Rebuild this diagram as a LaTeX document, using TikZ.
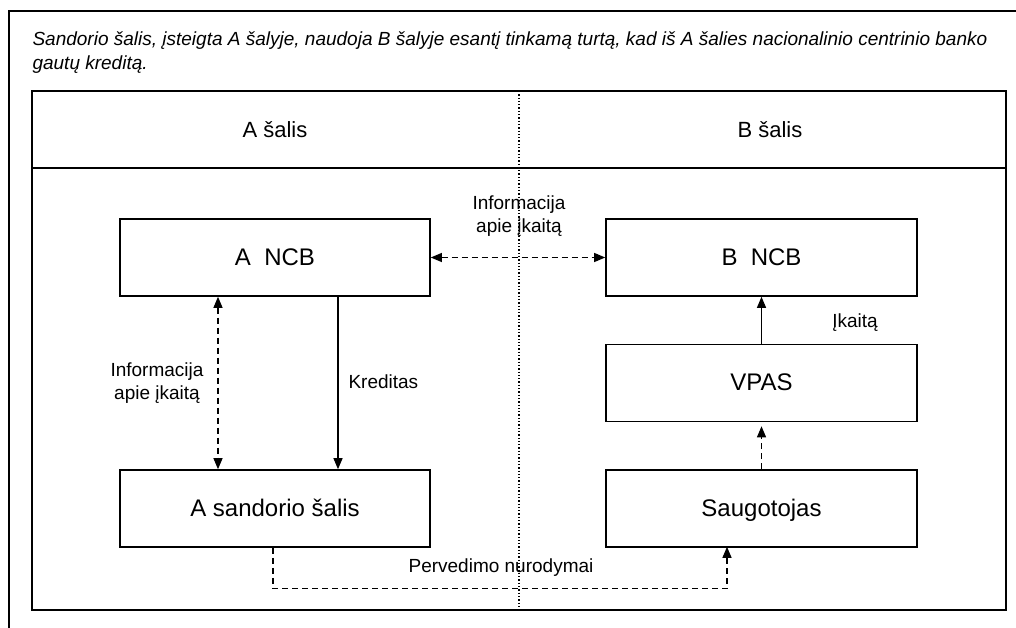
\documentclass[tikz,border=0pt]{standalone}
\usepackage{fontspec}
\setmainfont{Liberation Sans}
\usetikzlibrary{arrows.meta}
\tikzset{every node/.style={font=\fontsize{19}{23}\selectfont}}
\tikzset{bank/.style={draw, line width=1.6pt, minimum height=77pt,
    font=\fontsize{24}{28}\selectfont, inner sep=0pt,
    text height=18pt, text depth=3pt},
  infoline/.style={dash pattern=on 6pt off 4pt}}

\begin{document}
\begin{tikzpicture}[x=1pt, y=-1pt, line width=1.1pt,
    >={Triangle[length=11pt,width=9pt]}]
      \useasboundingbox (0,0) rectangle (1016,628);
      % frames
      \draw[line width=1.6pt] (1030,11) -- (9,11) -- (9,640);
      \draw[line width=1.6pt] (32,91) rectangle (1006,610);
      \draw[line width=1.6pt] (32,168) -- (1006,168);
      \draw[dotted, line width=1.3pt] (519,91) -- (519,610);

      \node (title) [anchor=base west, align=left, inner sep=0pt,
        font=\itshape\fontsize{19}{24}\selectfont] at (32,70)
        {Sandorio šalis, įsteigta A šalyje, naudoja B šalyje esantį tinkamą turtą, kad iš A šalies nacionalinio centrinio banko\\gautų kreditą.};
      \node (salisA) [font=\fontsize{22}{26}\selectfont] at (275,130) {A šalis};
      \node (salisB) [font=\fontsize{22}{26}\selectfont] at (770,130) {B šalis};

      % boxes
      \node (ancb) [bank, minimum width=310pt] at (275,257.5) {A\ \ NCB};
      \node (asand) [bank, minimum width=310pt] at (275,508.5) {A sandorio šalis};
      \node (bncb) [bank, minimum width=311pt] at (761.5,257.5) {B\ \ NCB};
      \node (vpas) [bank, minimum width=311pt] at (761.5,383) {VPAS};
      \node (saug) [bank, minimum width=311pt] at (761.5,508.5) {Saugotojas};

      % connectors
      \draw[<->, infoline] (ancb.east) -- (bncb.west);
      \node (infoAB) [align=center] at (519,216) {Informacija\\apie įkaitą};

      \draw[<->, infoline] ([xshift=-57pt]ancb.south) -- ([xshift=-57pt]asand.north);
      \node (infoA) [align=center] at (157,383) {Informacija\\apie įkaitą};

      \draw[->] ([xshift=63pt]ancb.south) -- ([xshift=63pt]asand.north);
      \node (kred) [anchor=west, inner sep=0pt] at (348,382) {Kreditas};

      \draw[->] (vpas.north) -- (bncb.south);
      \node (ikaita) at (855,323) {Įkaitą};

      \draw[->, infoline] (saug.north) -- ([yshift=-4pt]vpas.south);

      \draw[->, infoline] ([xshift=-2pt]asand.south) -- ++(0,41)
        -| ([xshift=-34.5pt,yshift=1pt]saug.south);
      \node (perv) at (501,568) {Pervedimo nurodymai};
\end{tikzpicture}
\end{document}
